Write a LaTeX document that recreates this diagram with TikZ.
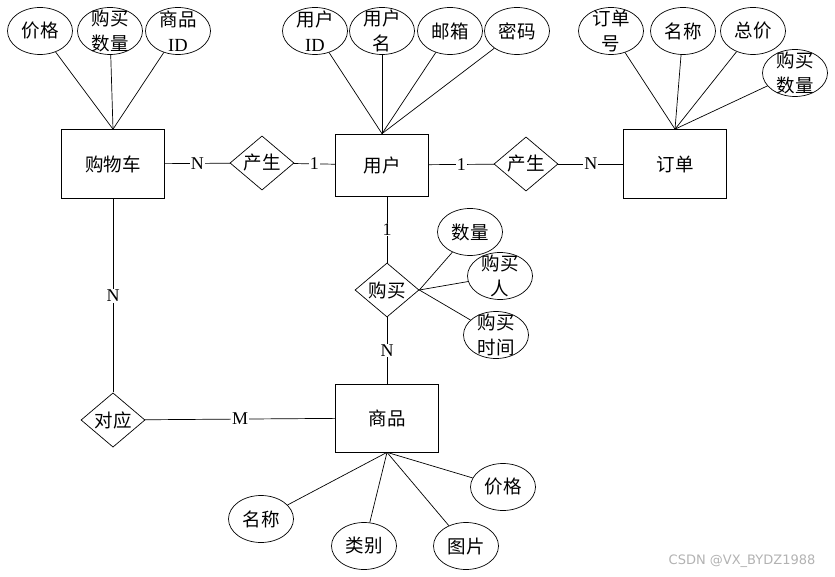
\documentclass[tikz,border=0pt]{standalone}
\usepackage{fontspec}
\setmainfont{Liberation Serif}
\newfontfamily\cjk{Noto Sans CJK SC}
\newfontfamily\wmfont{DejaVu Sans}
\usetikzlibrary{shapes.geometric}

\tikzset{
  entity/.style={draw, minimum width=103pt, minimum height=69pt, inner sep=0pt},
  attr/.style={draw, ellipse, minimum width=65pt, minimum height=47pt, inner sep=0pt},
  twoline/.style={attr, label={[align=center]center:#1}},
  rel/.style={draw, diamond, minimum width=64pt, minimum height=50pt, inner sep=0pt},
  card/.style={fill=white, inner sep=1pt, font=\fontsize{18}{20}\selectfont\rmfamily},
}

\begin{document}
\begin{tikzpicture}[x=1pt, y=-1pt, line width=0.7pt, font=\fontsize{18.5}{25}\selectfont\cjk]
	\useasboundingbox (0,0) rectangle (835,577);
	\node[entity] (cart) at (113,164) {购物车};
	\node[entity, minimum width=93pt, minimum height=62pt] (user) at (382,165) {用户};
	\node[entity] (order) at (675,164) {订单};
	\node[entity, minimum height=68pt] (goods) at (387,418) {商品};

	\node[rel] (make1) at (262,163) {产生};
	\node[rel] (make2) at (526,164) {产生};
	\node[rel] (buy) at (387,290) {购买};
	\node[rel] (match) at (113,420) {对应};

	\node[attr] (cprice) at (40,31) {价格};
	\node[twoline={购买\\数量}] (cnum) at (110,31) {};
	\node[twoline={商品\\{\rmfamily ID}}] (cid) at (178,31) {};
	\node[twoline={用户\\{\rmfamily ID}}] (uid) at (315,31) {};
	\node[twoline={用户\\名}] (uname) at (382,31) {};
	\node[attr] (umail) at (450,31) {邮箱};
	\node[attr] (upwd) at (517,31) {密码};
	\node[twoline={订单\\号}] (ono) at (611,31) {};
	\node[attr] (oname) at (683,31) {名称};
	\node[attr] (ototal) at (753,31) {总价};
	\node[twoline={购买\\数量}] (onum) at (795,73) {};
	\node[attr] (bnum) at (470,232) {数量};
	\node[twoline={购买\\人}] (bwho) at (500,276) {};
	\node[twoline={购买\\时间}] (btime) at (496,335) {};
	\node[attr] (gname) at (261,519) {名称};
	\node[attr] (gtype) at (364,546) {类别};
	\node[attr] (gpic) at (466,546) {图片};
	\node[attr] (gprice) at (503,487) {价格};

	\foreach \a in {cprice,cnum,cid}
		\draw (\a) -- (cart.north);
	\foreach \a in {uid,uname,umail,upwd}
		\draw (\a) -- (user.north);
	\foreach \a in {ono,oname,ototal,onum}
		\draw (\a) -- (order.north);
	\foreach \a in {bnum,bwho,btime}
		\draw (buy.east) -- (\a);
	\foreach \a in {gname,gtype,gpic,gprice}
		\draw (goods.south) -- (\a);

	\draw (cart) -- node[card] {N} (make1);
	\draw (make1) -- node[card] {1} (user);
	\draw (user) -- node[card] {1} (make2);
	\draw (make2) -- node[card] {N} (order);
	\draw (buy) -- node[card] {1} (buy |- user.south);
	\draw (buy) -- node[card] {N} (goods);
	\draw (cart) -- node[card] {N} (match);
	\draw (match) -- node[card] {M} (goods);

	\node[font=\fontsize{13}{15}\selectfont\wmfont, text=gray!60] (mark) at (742,561) {CSDN @VX\_BYDZ1988};
\end{tikzpicture}
\end{document}
